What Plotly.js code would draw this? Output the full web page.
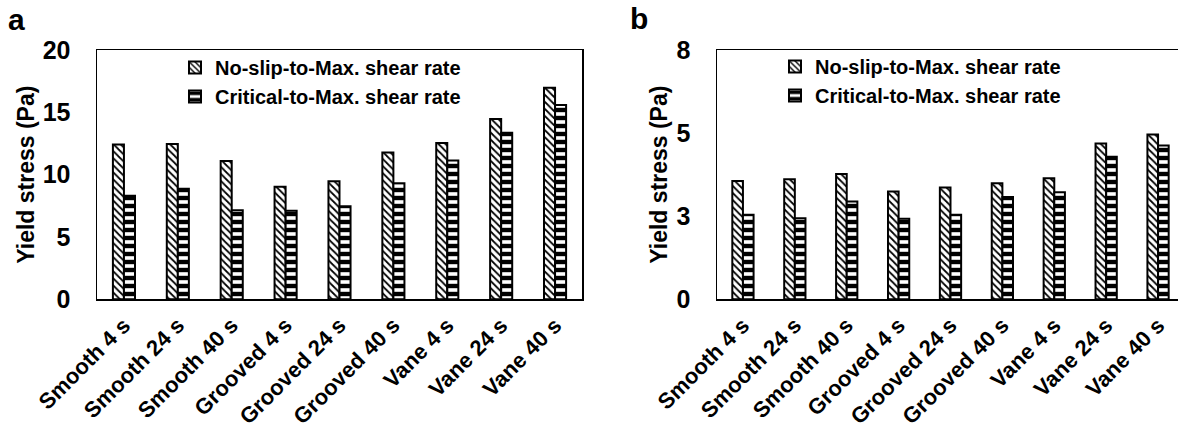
<!DOCTYPE html>
<html>
<head>
<meta charset="utf-8">
<script src="https://cdn.plot.ly/plotly-3.0.1.min.js"></script>
<style>
  html, body { margin: 0; padding: 0; overflow: hidden; background: #fff; }
  #chart { width: 1190px; height: 436px; }
</style>
</head>
<body>
<div id="chart"></div>
<script>
// ---- Data ----
const categories = ["Smooth 4 s", "Smooth 24 s", "Smooth 40 s", "Grooved 4 s", "Grooved 24 s", "Grooved 40 s", "Vane 4 s", "Vane 24 s", "Vane 40 s"];
const seriesNames = ["No-slip-to-Max. shear rate", "Critical-to-Max. shear rate"];
// Panel a
const aNoSlip   = [12.42, 12.45, 11.10, 9.02, 9.48, 11.78, 12.53, 14.46, 16.97];
const aCritical = [8.30, 8.86, 7.15, 7.10, 7.47, 9.32, 11.14, 13.36, 15.58];
// Panel b
const bNoSlip   = [3.56, 3.61, 3.77, 3.24, 3.36, 3.49, 3.64, 4.69, 4.96];
const bCritical = [2.54, 2.44, 2.94, 2.42, 2.54, 3.08, 3.22, 4.29, 4.63];
// Axis ticks
const aTickVals = [0, 5, 10, 15, 20];
const aTickText = ["0", "5", "10", "15", "20"];
const bTickVals = [0, 2.5, 5, 7.5];
const bTickText = ["0", "3", "5", "8"];
const panelLabels = ["a", "b"];
const yTitle = "Yield stress (Pa)";

// ---- Styling ----
const FONT = 'Arial, "Liberation Sans", sans-serif';
const W = 1190, H = 436;
const px = v => v / W;
const py = v => 1 - v / H;

const hatchMarker = {
  color: "white",
  line: { color: "black", width: 2 },
  pattern: { shape: "\\", fgcolor: "black", bgcolor: "white", fgopacity: 1, size: 5, solidity: 0.35 }
};
const stripeMarker = {
  color: "white",
  line: { color: "black", width: 2 },
  pattern: { shape: "-", fgcolor: "black", bgcolor: "white", fgopacity: 1, size: 8, solidity: 0.55 }
};

const traces = [
  { type: "bar", x: categories, y: aNoSlip, name: seriesNames[0], marker: hatchMarker, xaxis: "x", yaxis: "y", legend: "legend" },
  { type: "bar", x: categories, y: aCritical, name: seriesNames[1], marker: stripeMarker, xaxis: "x", yaxis: "y", legend: "legend" },
  { type: "bar", x: categories, y: bNoSlip, name: seriesNames[0], marker: hatchMarker, xaxis: "x2", yaxis: "y2", legend: "legend2" },
  { type: "bar", x: categories, y: bCritical, name: seriesNames[1], marker: stripeMarker, xaxis: "x2", yaxis: "y2", legend: "legend2" }
];

const tickFontY = { family: FONT, size: 25, color: "black", weight: "bold" };
const tickFontX = { family: FONT, size: 22, color: "black", weight: "bold" };
const titleFont = { family: FONT, size: 23, color: "black", weight: "bold" };
const legendFont = { family: FONT, size: 20, color: "black", weight: "bold" };

function xAxis(domain, anchor) {
  return {
    domain: domain, anchor: anchor, type: "category",
    showline: true, linecolor: "black", linewidth: 1.5, mirror: true,
    showgrid: false, zeroline: false, ticks: "",
    tickangle: -45, tickfont: tickFontX, ticklabelstandoff: 3,
    automargin: false, fixedrange: true
  };
}
function yAxis(domain, anchor, range, vals, text, standoff) {
  return {
    domain: domain, anchor: anchor, range: range,
    tickmode: "array", tickvals: vals, ticktext: text,
    showline: true, linecolor: "black", linewidth: 1.5, mirror: true,
    showgrid: false, zeroline: false, ticks: "",
    tickfont: tickFontY, ticklabelstandoff: 20,
    title: { text: yTitle, font: titleFont, standoff: standoff },
    automargin: false, fixedrange: true
  };
}

const yDom = [py(299.3), py(50)];

const layout = {
  width: W, height: H,
  margin: { l: 0, r: 0, t: 0, b: 0 },
  paper_bgcolor: "white", plot_bgcolor: "white",
  font: { family: FONT, color: "black" },
  barmode: "group", bargap: 0.59, bargroupgap: 0,
  xaxis: xAxis([px(97), px(582)], "y"),
  yaxis: yAxis(yDom, "x", [0, 20], aTickVals, aTickText, 1),
  xaxis2: xAxis([px(717), px(1184)], "y2"),
  yaxis2: yAxis(yDom, "x2", [0, 7.5], bTickVals, bTickText, 2),
  legend: {
    x: px(175), y: py(48), xanchor: "left", yanchor: "top",
    bgcolor: "rgba(0,0,0,0)", font: legendFont, tracegroupgap: 0, itemclick: false, itemdoubleclick: false
  },
  legend2: {
    x: px(775), y: py(47), xanchor: "left", yanchor: "top",
    bgcolor: "rgba(0,0,0,0)", font: legendFont, tracegroupgap: 0, itemclick: false, itemdoubleclick: false
  },
  annotations: [
    { text: panelLabels[0], xref: "paper", yref: "paper", x: px(6), y: py(1), xanchor: "left", yanchor: "top",
      showarrow: false, font: { family: FONT, size: 30, color: "black", weight: "bold" } },
    { text: panelLabels[1], xref: "paper", yref: "paper", x: px(628), y: py(0), xanchor: "left", yanchor: "top",
      showarrow: false, font: { family: FONT, size: 30, color: "black", weight: "bold" } }
  ]
};

Plotly.newPlot("chart", traces, layout, { staticPlot: true, displayModeBar: false });
</script>
</body>
</html>
